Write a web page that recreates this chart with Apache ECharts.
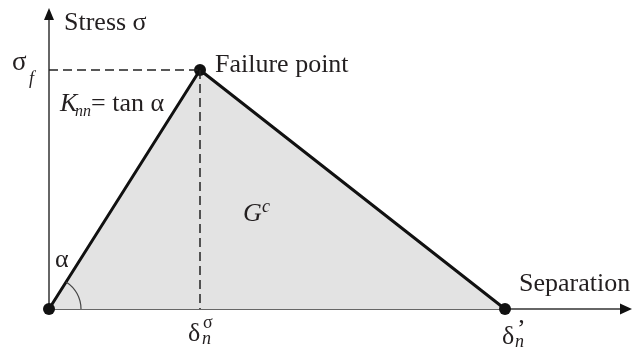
<!DOCTYPE html>
<html lang="en">
<head>
<meta charset="UTF-8">
<title>Cohesive law</title>
<script src="https://cdn.jsdelivr.net/npm/echarts@6/dist/echarts.min.js"></script>
<style>
html, body { margin: 0; padding: 0; background: #fff; }
#container { width: 632px; height: 349px; }
</style>
</head>
<body>
<div id="container"></div>
<script type="text/javascript">
// bilinear traction-separation law (arbitrary units)
var sepVals = [0, 151, 456];     // 0, delta_n^sigma, delta_n'
var stressVals = [0, 239, 0];    // 0, sigma_f, 0
var xMax = 575;
var yMax = 295;

var serif = '"Liberation Serif", "DejaVu Serif", serif';
var ink = '#231f20';

var curve = [];
for (var i = 0; i < sepVals.length; i++) {
    curve.push([sepVals[i], stressVals[i]]);
}
var peak = curve[1];

var dom = document.getElementById('container');
var myChart = echarts.init(dom, null, {renderer: 'canvas'});

var axisLine = {
    show: true,
    onZero: false,
    lineStyle: {color: '#666', width: 2}
};

var option = {
    animation: false,
    backgroundColor: '#fff',
    grid: {left: 49, right: 8, top: 14, bottom: 40},
    xAxis: {
        type: 'value', min: 0, max: xMax,
        axisLine: axisLine,
        axisTick: {show: false}, axisLabel: {show: false}, splitLine: {show: false}
    },
    yAxis: {
        type: 'value', min: 0, max: yMax,
        axisLine: axisLine,
        axisTick: {show: false}, axisLabel: {show: false}, splitLine: {show: false}
    },
    series: [
        {
            name: 'guide-h',
            type: 'line',
            data: [[0, peak[1]], peak],
            symbol: 'none',
            lineStyle: {color: '#222', width: 1.5, type: [9, 5]},
            z: 3
        },
        {
            name: 'guide-v',
            type: 'line',
            data: [peak, [peak[0], 0]],
            symbol: 'none',
            lineStyle: {color: '#222', width: 1.5, type: [9, 5]},
            z: 3
        },
        {
            name: 'law',
            type: 'line',
            data: curve,
            symbol: 'circle',
            symbolSize: 12,
            itemStyle: {color: '#111'},
            lineStyle: {color: '#111', width: 3},
            areaStyle: {color: '#e3e3e3', opacity: 1},
            z: 2
        }
    ]
};
myChart.setOption(option);

// annotations placed relative to the points of the law
var o = myChart.convertToPixel({gridIndex: 0}, curve[0]);
var f = myChart.convertToPixel({gridIndex: 0}, curve[1]);
var e = myChart.convertToPixel({gridIndex: 0}, curve[2]);
var ang = Math.atan2(f[1] - o[1], f[0] - o[0]);
var yTop = myChart.convertToPixel({yAxisIndex: 0}, yMax);
var xEnd = myChart.convertToPixel({xAxisIndex: 0}, xMax);

// y is the text baseline
function txt(s, x, y, size, italic) {
    return {
        type: 'text', x: x, y: y - Math.round(size * 0.32), z: 10,
        style: {
            text: s,
            font: (italic ? 'italic ' : '') + size + 'px ' + serif,
            fill: ink,
            textAlign: 'left',
            textVerticalAlign: 'middle'
        }
    };
}

myChart.setOption({
    graphic: [
        {
            type: 'arc', z: 5,
            shape: {cx: o[0], cy: o[1], r: 32, startAngle: ang, endAngle: 0, clockwise: true},
            style: {stroke: '#444', lineWidth: 1.2, fill: null}
        },
        {
            type: 'polygon', z: 6,
            shape: {points: [[o[0], yTop - 6], [o[0] - 5, yTop + 6], [o[0] + 5, yTop + 6]]},
            style: {fill: '#111'}
        },
        {
            type: 'polygon', z: 6,
            shape: {points: [[xEnd + 8, o[1]], [xEnd - 4, o[1] - 5.5], [xEnd - 4, o[1] + 5.5]]},
            style: {fill: '#111'}
        },
        txt('Stress σ', o[0] + 15, 31, 26),
        txt('σ', 12, 72, 27),
        txt('f', 29, 85, 18, true),
        txt('Failure point', e[0] - 290, 73, 26),
        txt('K', 60, 112, 26, true),
        txt('nn', 75, 117, 16, true),
        txt('= tan α', 91, 112, 26),
        txt('α', 55, 268, 26),
        txt('G', 243, 222, 26, true),
        txt('c', 262, 213, 18, true),
        txt('Separation', 519, 292, 26),
        txt('δ', 188, 342, 26),
        txt('σ', 203, 329, 18),
        txt('n', 202, 345, 18, true),
        txt('δ', 502, 345, 26),
        txt('’', 517, 338, 26),
        txt('n', 515, 348, 18, true)
    ]
});
</script>
</body>
</html>
